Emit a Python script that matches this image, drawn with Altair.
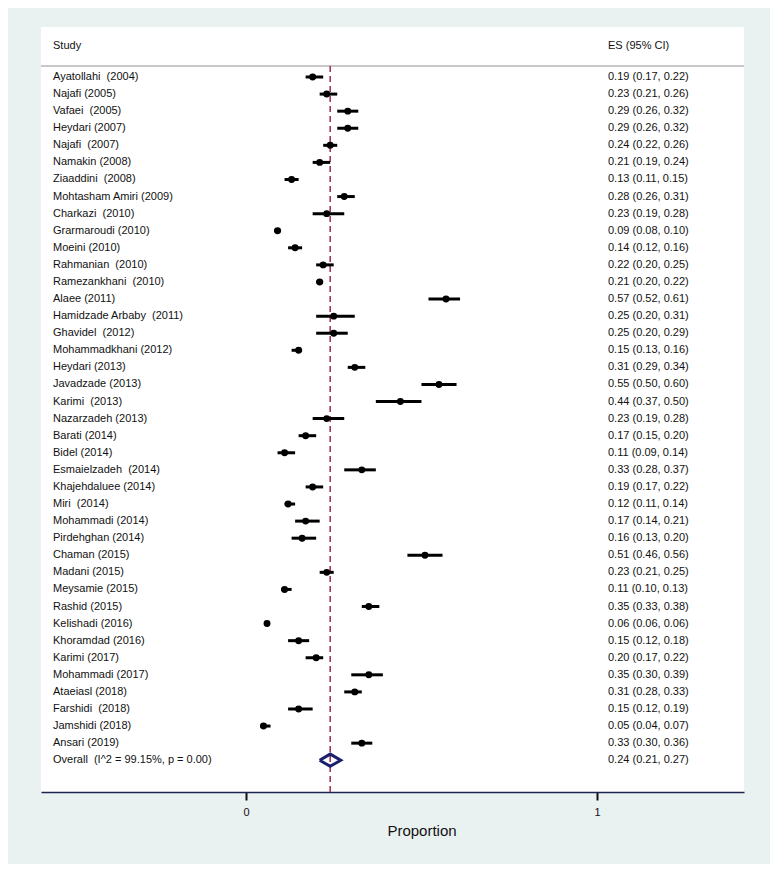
import altair as alt
import pandas as pd

studies = [
    "Ayatollahi  (2004)", "Najafi (2005)", "Vafaei  (2005)", "Heydari (2007)", "Najafi  (2007)",
    "Namakin (2008)", "Ziaaddini  (2008)", "Mohtasham Amiri (2009)", "Charkazi  (2010)",
    "Grarmaroudi (2010)", "Moeini (2010)", "Rahmanian  (2010)", "Ramezankhani  (2010)",
    "Alaee (2011)", "Hamidzade Arbaby  (2011)", "Ghavidel  (2012)", "Mohammadkhani (2012)",
    "Heydari (2013)", "Javadzade (2013)", "Karimi  (2013)", "Nazarzadeh (2013)", "Barati (2014)",
    "Bidel (2014)", "Esmaielzadeh  (2014)", "Khajehdaluee (2014)", "Miri  (2014)",
    "Mohammadi (2014)", "Pirdehghan (2014)", "Chaman (2015)", "Madani (2015)",
    "Meysamie (2015)", "Rashid (2015)", "Kelishadi (2016)", "Khoramdad (2016)",
    "Karimi (2017)", "Mohammadi (2017)", "Ataeiasl (2018)", "Farshidi  (2018)",
    "Jamshidi (2018)", "Ansari (2019)",
]
es = [0.19, 0.23, 0.29, 0.29, 0.24, 0.21, 0.13, 0.28, 0.23, 0.09, 0.14, 0.22, 0.21,
      0.57, 0.25, 0.25, 0.15, 0.31, 0.55, 0.44, 0.23, 0.17, 0.11, 0.33, 0.19, 0.12,
      0.17, 0.16, 0.51, 0.23, 0.11, 0.35, 0.06, 0.15, 0.20, 0.35, 0.31, 0.15, 0.05, 0.33]
lo = [0.17, 0.21, 0.26, 0.26, 0.22, 0.19, 0.11, 0.26, 0.19, 0.08, 0.12, 0.20, 0.20,
      0.52, 0.20, 0.20, 0.13, 0.29, 0.50, 0.37, 0.19, 0.15, 0.09, 0.28, 0.17, 0.11,
      0.14, 0.13, 0.46, 0.21, 0.10, 0.33, 0.06, 0.12, 0.17, 0.30, 0.28, 0.12, 0.04, 0.30]
hi = [0.22, 0.26, 0.32, 0.32, 0.26, 0.24, 0.15, 0.31, 0.28, 0.10, 0.16, 0.25, 0.22,
      0.61, 0.31, 0.29, 0.16, 0.34, 0.60, 0.50, 0.28, 0.20, 0.14, 0.37, 0.22, 0.14,
      0.21, 0.20, 0.56, 0.25, 0.13, 0.38, 0.06, 0.18, 0.22, 0.39, 0.33, 0.19, 0.07, 0.36]

overall_label = "Overall  (I^2 = 99.15%, p = 0.00)"
overall_es, overall_lo, overall_hi = 0.24, 0.21, 0.27

header_labels = ["Study", "ES (95% CI)"]
x_ticks = [0, 1]
x_title = "Proportion"

FONT = "Liberation Sans"
W, H = 703, 765
xscale = alt.Scale(domain=[-0.584, 1.419], nice=False, zero=False)
yscale = alt.Scale(domain=[-2.927, 41.86], nice=False, zero=False, reverse=True)


def fix(s):
    return s.replace("  ", " \u00a0")


n = len(studies)
df = pd.DataFrame({"study": [fix(s) for s in studies], "es": es, "lo": lo, "hi": hi,
                   "row": list(range(n))})
df["ci"] = [f"{a:.2f} ({b:.2f}, {c:.2f})" for a, b, c in zip(es, lo, hi)]

labels = pd.DataFrame({
    "row": list(range(n + 1)),
    "study": [fix(s) for s in studies] + [fix(overall_label)],
    "ci": list(df["ci"]) + [f"{overall_es:.2f} ({overall_lo:.2f}, {overall_hi:.2f})"],
})

header = pd.DataFrame({"row": [-1.815], "a": [header_labels[0]], "b": [header_labels[1]]})
sep = pd.DataFrame({"row": [-0.644]})
refline = pd.DataFrame({"x": [overall_es], "y1": [-0.644], "y2": [41.86]})
dia_h = 0.36
diamond = pd.DataFrame({
    "x": [overall_lo, overall_es, overall_hi, overall_es, overall_lo],
    "y": [n, n - dia_h, n, n + dia_h, n],
    "o": [0, 1, 2, 3, 4],
})

Y = lambda f: alt.Y(f, scale=yscale, axis=None)

xaxis = alt.Axis(
    values=x_ticks, grid=False, tickSize=8, tickWidth=2, tickColor="#111111",
    domainColor="#1c2452", domainWidth=1.5, labelFont=FONT, labelFontSize=11,
    labelColor="#111111", labelPadding=6, titleFont=FONT, titleFontSize=15,
    titleFontWeight="normal", titleColor="#111111", titleX=380.5, titlePadding=6,
    format="d",
)

sep_rule = alt.Chart(sep).mark_rule(color="#c8c8c8", strokeWidth=2).encode(
    y=Y("row:Q"), x=alt.value(0), x2=alt.value(W)
)

ref = alt.Chart(refline).mark_rule(color="#a23a50", strokeWidth=1.6, strokeDash=[6, 4]).encode(
    x=alt.X("x:Q", scale=xscale, axis=xaxis, title=x_title),
    y=Y("y1:Q"), y2="y2:Q",
)

ci = alt.Chart(df).mark_rule(color="black", strokeWidth=3).encode(
    x=alt.X("lo:Q", scale=xscale), x2="hi:Q", y=Y("row:Q")
)

pts = alt.Chart(df).mark_point(shape="circle", filled=True, color="black", size=48, opacity=1).encode(
    x=alt.X("es:Q", scale=xscale), y=Y("row:Q")
)

dia = alt.Chart(diamond).mark_line(color="#1a1f6e", strokeWidth=3, strokeJoin="miter").encode(
    x=alt.X("x:Q", scale=xscale), y=Y("y:Q"), order="o:Q"
)

txt_kw = dict(align="left", baseline="middle", font=FONT, fontSize=11, color="#111111")
study_txt = alt.Chart(labels).mark_text(**txt_kw).encode(
    x=alt.value(12), y=Y("row:Q"), text="study:N"
)
ci_txt = alt.Chart(labels).mark_text(**txt_kw).encode(
    x=alt.value(567), y=Y("row:Q"), text="ci:N"
)
head_a = alt.Chart(header).mark_text(**txt_kw).encode(
    x=alt.value(12), y=Y("row:Q"), text="a:N"
)
head_b = alt.Chart(header).mark_text(**txt_kw).encode(
    x=alt.value(567), y=Y("row:Q"), text="b:N"
)

chart = alt.layer(
    sep_rule, ref, ci, pts, dia, study_txt, ci_txt, head_a, head_b
).properties(
    width=W, height=H, background="#eaf1f1",
    padding={"left": 33, "top": 19, "right": 26, "bottom": 72},
    autosize=alt.AutoSizeParams(type="none"),
).configure_view(fill="white", strokeWidth=0)

chart.save("out.html", embed_options={"renderer": "svg", "actions": False})
